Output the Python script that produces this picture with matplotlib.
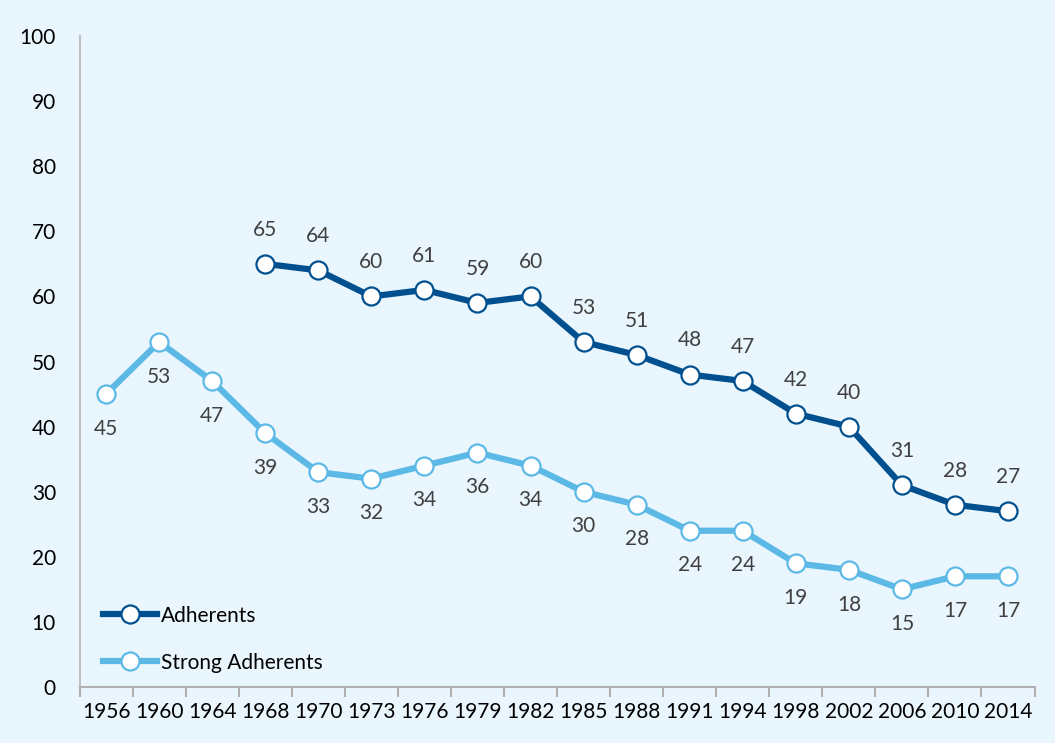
import numpy as np
import matplotlib.pyplot as plt

years = ["1956", "1960", "1964", "1968", "1970", "1973", "1976", "1979", "1982",
         "1985", "1988", "1991", "1994", "1998", "2002", "2006", "2010", "2014"]
adherents = [None, None, None, 65, 64, 60, 61, 59, 60, 53, 51, 48, 47, 42, 40, 31, 28, 27]
strong = [45, 53, 47, 39, 33, 32, 34, 36, 34, 30, 28, 24, 24, 19, 18, 15, 17, 17]

dark = "#00508f"
light = "#5cb9e6"
bg = "#eaf6fd"

plt.rcParams['font.family'] = ['Lato', 'DejaVu Sans']

fig = plt.figure(figsize=(10.55, 7.43), dpi=100, facecolor=bg)
ax = fig.add_axes([0.0754, 0.0754, 0.9052, 0.8761], facecolor=bg)

x = np.arange(len(years))
adh = np.array([np.nan if v is None else v for v in adherents], dtype=float)
stg = np.array(strong, dtype=float)

mk = dict(marker="o", markersize=13, markerfacecolor="white", markeredgewidth=1.6)
ax.plot(x, adh, color=dark, lw=4.5, markeredgecolor=dark, label="Adherents", **mk)
ax.plot(x, stg, color=light, lw=4.5, markeredgecolor=light, label="Strong Adherents", **mk)

for i in range(len(years)):
    if not np.isnan(adh[i]):
        ax.annotate(f"{int(adh[i])}", (x[i], adh[i]), xytext=(0, 24.5),
                    textcoords="offset points", ha="center", va="center",
                    fontsize=15, color="#404040")
    ax.annotate(f"{int(stg[i])}", (x[i], stg[i]), xytext=(0, -25),
                textcoords="offset points", ha="center", va="center",
                fontsize=15, color="#404040")

ax.set_xlim(-0.5, len(years) - 0.5)
ax.set_ylim(0, 100)
ax.set_yticks(np.arange(0, 101, 10))
ax.set_xticks(x)
ax.set_xticklabels(years)
ax.set_xticks(np.arange(-0.5, len(years)), minor=True)
ax.tick_params(axis="x", which="major", length=0, labelsize=15, pad=11)
ax.tick_params(axis="x", which="minor", length=7, color="#b0b0b0", width=1.5)
ax.tick_params(axis="y", length=0, labelsize=15, pad=17)

for s in ["top", "right"]:
    ax.spines[s].set_visible(False)
ax.spines["left"].set_color("#c0c0c0")
ax.spines["left"].set_linewidth(1.5)
ax.spines["bottom"].set_color("#b0b0b0")
ax.spines["bottom"].set_linewidth(1.5)

ax.legend(loc="lower left", bbox_to_anchor=(0.005, -0.007), frameon=False,
          fontsize=15, handlelength=2.6, handletextpad=0.2, labelspacing=1.3,
          numpoints=1)

fig.savefig("out.png", dpi=100, facecolor=bg)
